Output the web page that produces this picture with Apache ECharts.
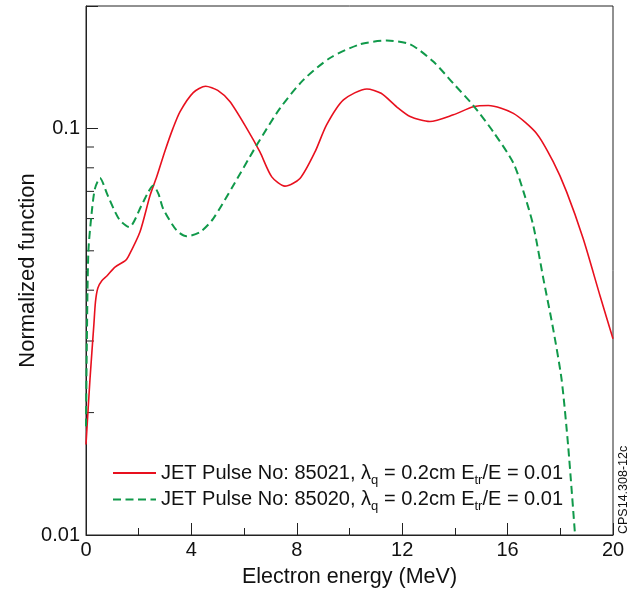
<!DOCTYPE html>
<html>
<head>
<meta charset="utf-8">
<script src="https://cdn.jsdelivr.net/npm/echarts@6/dist/echarts.min.js"></script>
<style>
  html, body { margin: 0; padding: 0; background: #fff; }
  #chart { width: 629px; height: 595px; }
</style>
</head>
<body>
<div id="chart"></div>
<script>
// electron energy (MeV) and normalized function
var redX = [0, 0.15, 0.3, 0.36, 0.45, 0.6, 0.8, 1.1, 1.48, 1.6, 2.05, 2.43, 2.68, 3.0, 3.3, 3.57, 4.07, 4.54, 5.0, 5.46, 6.1, 6.6, 7.05, 7.55, 8.12, 8.69, 9.13, 9.77, 10.66, 11.2, 11.79, 12.3, 13.05, 13.94, 14.7, 15.27, 16.22, 17.1, 17.73, 18.24, 18.87, 19.51, 20];
var redY = [0.0167, 0.0241, 0.033, 0.0375, 0.0405, 0.0422, 0.0434, 0.0456, 0.0472, 0.0483, 0.0557, 0.0684, 0.0759, 0.0881, 0.100, 0.110, 0.1225, 0.127, 0.124, 0.1164, 0.100, 0.0875, 0.076, 0.0721, 0.0753, 0.0875, 0.102, 0.1175, 0.125, 0.122, 0.113, 0.107, 0.104, 0.108, 0.113, 0.1138, 0.1089, 0.0972, 0.0828, 0.0698, 0.0535, 0.0387, 0.0304];

var greenX = [0, 0.03, 0.09, 0.22, 0.34, 0.53, 0.8, 1.05, 1.29, 1.64, 2.11, 2.35, 2.55, 2.75, 2.93, 3.44, 3.82, 4.33, 4.83, 5.59, 6.48, 7.36, 8.25, 9.26, 10.4, 11.41, 12.3, 13.18, 13.94, 14.7, 15.46, 16.22, 16.6, 16.98, 17.36, 17.73, 18.05, 18.3, 18.56];
var greenY = [0.0185, 0.029, 0.0497, 0.0624, 0.0711, 0.0755, 0.069, 0.0634, 0.0594, 0.0572, 0.0647, 0.0695, 0.0724, 0.069, 0.0634, 0.0561, 0.0543, 0.0556, 0.060, 0.0724, 0.091, 0.112, 0.1316, 0.149, 0.161, 0.1644, 0.161, 0.146, 0.129, 0.1138, 0.098, 0.0822, 0.070, 0.0575, 0.0426, 0.0321, 0.0241, 0.0165, 0.0100];

var yMinorTicks = [0.02, 0.03, 0.04, 0.05, 0.06, 0.07, 0.08, 0.09];
var yLabels = [0.01, 0.1];

function pairs(xs, ys) {
    var out = [];
    for (var i = 0; i < xs.length; i++) out.push([xs[i], ys[i]]);
    return out;
}

var font = 'Liberation Sans, Arial, sans-serif';
var legendTail = ', λ{sub|q} = 0.2cm E{sub|tr}/E = 0.01';

var myChart = echarts.init(document.getElementById('chart'));
var option = {
    animation: false,
    textStyle: { fontFamily: font },
    grid: {
        left: 86, right: 16, top: 6, bottom: 60,
        show: true, borderColor: '#222', borderWidth: 1
    },
    legend: {
        data: ['JET Pulse No: 85021', 'JET Pulse No: 85020'],
        orient: 'vertical',
        left: 107, top: 458,
        itemWidth: 43, itemHeight: 12, itemGap: 3,
        itemStyle: { opacity: 0 },
        formatter: function (name) { return name + legendTail; },
        textStyle: {
            fontFamily: font, fontSize: 20, color: '#111',
            rich: {
                sub: { fontSize: 13, fontFamily: font, color: '#111', padding: [14, 0, 0, 0] }
            }
        }
    },
    xAxis: {
        type: 'value', min: 0, max: 20, interval: 4,
        name: 'Electron energy (MeV)', nameLocation: 'middle', nameGap: 31,
        nameTextStyle: { fontSize: 21.5, color: '#111', fontFamily: font },
        axisLine: { lineStyle: { color: '#222', width: 1 } },
        axisTick: { inside: true, length: 12, lineStyle: { color: '#222' } },
        minorTick: { show: true, splitNumber: 2, length: 7, lineStyle: { color: '#222' } },
        axisLabel: { fontSize: 20, color: '#111', margin: 5, fontFamily: font },
        splitLine: { show: false }
    },
    yAxis: {
        type: 'log', logBase: 10, min: 0.01, max: 0.2, interval: 1,
        name: 'Normalized function', nameLocation: 'middle', nameGap: 47,
        nameMoveOverlap: false,
        nameTextStyle: { fontSize: 22, color: '#111', fontFamily: font },
        axisLine: { lineStyle: { color: '#222', width: 1 } },
        axisTick: { inside: true, length: 12, lineStyle: { color: '#222' } },
        axisLabel: {
            fontSize: 20, color: '#111', margin: 6, fontFamily: font,
            formatter: function (v) {
                for (var i = 0; i < yLabels.length; i++) {
                    if (Math.abs(v - yLabels[i]) < 1e-9) return String(yLabels[i]);
                }
                return '';
            }
        },
        splitLine: { show: false }
    },
    series: [
        {
            name: 'JET Pulse No: 85021',
            type: 'line',
            data: pairs(redX, redY),
            smooth: 0.25,
            symbol: 'none',
            lineStyle: { color: '#e8101e', width: 1.6 },
            itemStyle: { color: '#e8101e' }
        },
        {
            name: 'JET Pulse No: 85020',
            type: 'line',
            data: pairs(greenX, greenY),
            smooth: 0.25,
            symbol: 'none',
            lineStyle: { color: '#10994a', width: 2, type: [8, 4.5] },
            itemStyle: { color: '#10994a' }
        },
        {
            name: 'minor',
            type: 'custom',
            silent: true,
            data: yMinorTicks.map(function (v) { return [0, v]; }),
            renderItem: function (params, api) {
                var p = api.coord([api.value(0), api.value(1)]);
                return {
                    type: 'line',
                    shape: { x1: p[0], y1: p[1], x2: p[0] + 8, y2: p[1] },
                    style: { stroke: '#222', lineWidth: 1 }
                };
            }
        }
    ],
    graphic: [
        {
            type: 'text',
            x: 617, y: 534,
            rotation: Math.PI / 2,
            style: { text: 'CPS14.308-12c', font: '12.5px ' + font, fill: '#111', textAlign: 'left', textVerticalAlign: 'top' }
        }
    ]
};
myChart.setOption(option);
</script>
</body>
</html>
